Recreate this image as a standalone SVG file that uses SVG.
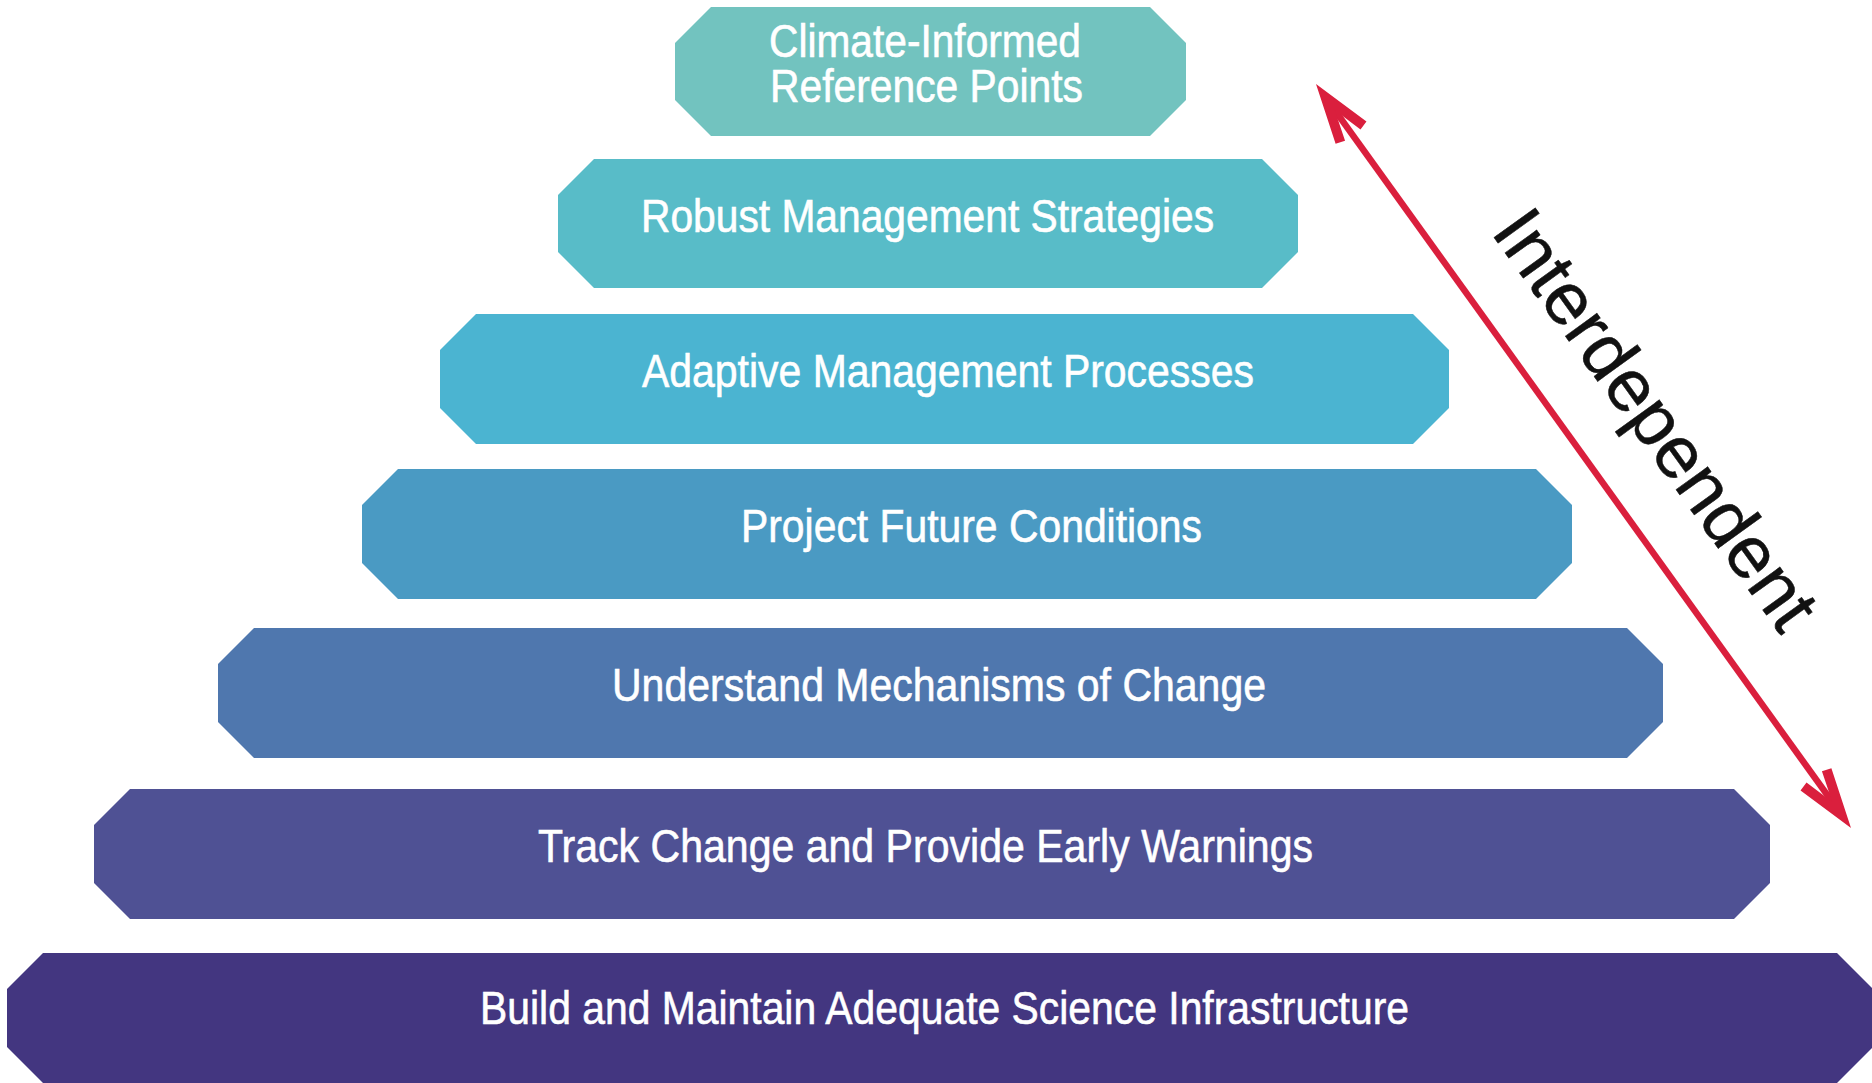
<svg xmlns="http://www.w3.org/2000/svg" width="1872" height="1083" viewBox="0 0 1872 1083">
<style>
.lbl{font-family:"Liberation Sans",Arial,sans-serif;font-size:47px;fill:#ffffff;stroke:#ffffff;stroke-width:0.6px;}
.side{font-family:"Liberation Sans",Arial,sans-serif;font-size:74px;fill:#111111;stroke:#111111;stroke-width:0.5px;}
.arr{fill:#da1f3d;}
.shaft{stroke:#da1f3d;stroke-width:6.5;fill:none;}
</style>
<defs>
<polygon id="head" points="0,0 60,-19 63,-9.5 32,0 63,9.5 60,19"/>
</defs>
<rect width="1872" height="1083" fill="#ffffff"/>
<g id="level1">
<polygon fill="#72c3bf" points="711,7 1150,7 1186,43 1186,100 1150,136 711,136 675,100 675,43"/>
<text class="lbl" x="769" y="57" textLength="312" lengthAdjust="spacingAndGlyphs">Climate-Informed</text>
<text class="lbl" x="770" y="102" textLength="313" lengthAdjust="spacingAndGlyphs">Reference Points</text>
</g>
<g id="level2">
<polygon fill="#58bcc8" points="594,159 1262,159 1298,195 1298,252 1262,288 594,288 558,252 558,195"/>
<text class="lbl" x="641" y="232" textLength="573" lengthAdjust="spacingAndGlyphs">Robust Management Strategies</text>
</g>
<g id="level3">
<polygon fill="#4bb4d1" points="476,314 1413,314 1449,350 1449,408 1413,444 476,444 440,408 440,350"/>
<text class="lbl" x="642" y="387" textLength="612" lengthAdjust="spacingAndGlyphs">Adaptive Management Processes</text>
</g>
<g id="level4">
<polygon fill="#4a9ac3" points="398,469 1536,469 1572,505 1572,563 1536,599 398,599 362,563 362,505"/>
<text class="lbl" x="741" y="542" textLength="461" lengthAdjust="spacingAndGlyphs">Project Future Conditions</text>
</g>
<g id="level5">
<polygon fill="#4f77ae" points="254,628 1627,628 1663,664 1663,722 1627,758 254,758 218,722 218,664"/>
<text class="lbl" x="612" y="701" textLength="654" lengthAdjust="spacingAndGlyphs">Understand Mechanisms of Change</text>
</g>
<g id="level6">
<polygon fill="#4f5194" points="130,789 1734,789 1770,825 1770,883 1734,919 130,919 94,883 94,825"/>
<text class="lbl" x="538" y="862" textLength="775" lengthAdjust="spacingAndGlyphs">Track Change and Provide Early Warnings</text>
</g>
<g id="level7">
<polygon fill="#433680" points="43,953 1837,953 1873,989 1873,1047 1837,1083 43,1083 7,1047 7,989"/>
<text class="lbl" x="480" y="1024" textLength="929" lengthAdjust="spacingAndGlyphs">Build and Maintain Adequate Science Infrastructure</text>
</g>
<g id="connectors">
<line class="shaft" x1="1330.6" y1="104.3" x2="1836.4" y2="807.7"/>
<use href="#head" class="arr" transform="translate(1316,84) rotate(54.28)"/>
<use href="#head" class="arr" transform="translate(1851,828) rotate(234.28)"/>
</g>
<g id="label-interdependent">
<text class="side" transform="translate(1490,232) rotate(54.2)">Interdependent</text>
</g>
</svg>
